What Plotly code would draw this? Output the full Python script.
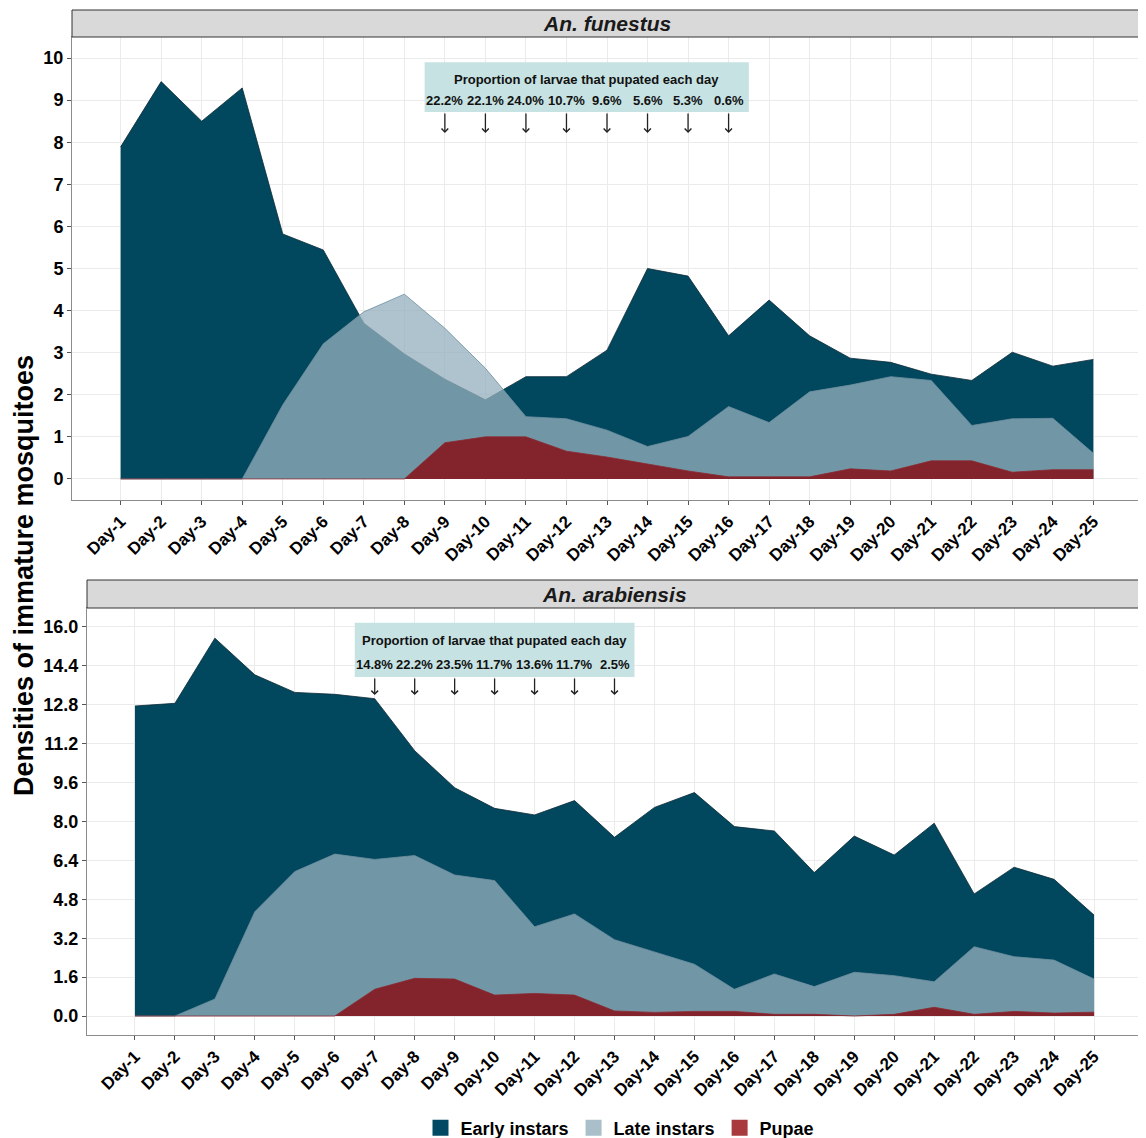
import plotly.graph_objects as go

days = ["Day-1", "Day-2", "Day-3", "Day-4", "Day-5", "Day-6", "Day-7", "Day-8", "Day-9",
        "Day-10", "Day-11", "Day-12", "Day-13", "Day-14", "Day-15", "Day-16", "Day-17",
        "Day-18", "Day-19", "Day-20", "Day-21", "Day-22", "Day-23", "Day-24", "Day-25"]

# An. funestus
fun_early = [7.89, 9.44, 8.50, 9.29, 5.82, 5.44, 3.70, 2.97, 2.37, 1.88, 2.43, 2.43, 3.06,
             5.00, 4.82, 3.40, 4.25, 3.40, 2.87, 2.77, 2.49, 2.34, 3.01, 2.68, 2.84]
fun_late = [0, 0, 0, 0, 1.76, 3.21, 3.97, 4.39, 3.58, 2.63, 1.48, 1.43, 1.16,
            0.77, 1.01, 1.72, 1.34, 2.07, 2.23, 2.43, 2.34, 1.27, 1.43, 1.44, 0.61]
fun_pupae = [0, 0, 0, 0, 0, 0, 0, 0, 0.86, 1.00, 1.00, 0.66, 0.52,
             0.35, 0.19, 0.05, 0.05, 0.05, 0.24, 0.19, 0.43, 0.43, 0.16, 0.22, 0.22]

# An. arabiensis
ara_early = [12.75, 12.86, 15.54, 14.03, 13.31, 13.23, 13.05, 10.91, 9.39, 8.54, 8.27, 8.86, 7.35,
             8.58, 9.19, 7.79, 7.61, 5.90, 7.40, 6.62, 7.93, 5.02, 6.12, 5.62, 4.15]
ara_late = [0, 0, 0.70, 4.29, 5.94, 6.66, 6.44, 6.60, 5.80, 5.57, 3.67, 4.20, 3.14,
            2.62, 2.13, 1.10, 1.73, 1.21, 1.80, 1.66, 1.41, 2.85, 2.44, 2.30, 1.52]
ara_pupae = [0, 0, 0, 0, 0, 0, 1.10, 1.55, 1.52, 0.86, 0.93, 0.86, 0.21,
             0.15, 0.19, 0.19, 0.07, 0.07, 0.0, 0.07, 0.36, 0.07, 0.19, 0.12, 0.16]

fun_pct_days = ["Day-9", "Day-10", "Day-11", "Day-12", "Day-13", "Day-14", "Day-15", "Day-16"]
fun_pct = ["22.2%", "22.1%", "24.0%", "10.7%", "9.6%", "5.6%", "5.3%", "0.6%"]
ara_pct_days = ["Day-7", "Day-8", "Day-9", "Day-10", "Day-11", "Day-12", "Day-13"]
ara_pct = ["14.8%", "22.2%", "23.5%", "11.7%", "13.6%", "11.7%", "2.5%"]

series_names = ["Early instars", "Late instars", "Pupae"]
fill_colors = ["rgba(1,71,94,1)", "rgba(149,176,189,0.76)", "rgba(132,31,39,0.97)"]
line_colors = ["#0d2a36", "#6f8fa0", "#8a2a31"]
legend_colors = ["#024a63", "#a9bfca", "#a83a3e"]

# page offset of the plot div (default body margin)
OFF = 8
W, H = 1138, 1130
FONT = "Liberation Sans"

xs = list(range(1, len(days) + 1))
idx = {d: i + 1 for i, d in enumerate(days)}

fig = go.Figure()
panels = [((fun_early, fun_late, fun_pupae), "x", "y"),
          ((ara_early, ara_late, ara_pupae), "x2", "y2")]
for data, xa, ya in panels:
    for name, vals, fc, lc in zip(series_names, data, fill_colors, line_colors):
        fig.add_trace(go.Scatter(
            x=xs, y=vals, xaxis=xa, yaxis=ya, mode="lines", fill="tozeroy",
            fillcolor=fc, line=dict(color=lc, width=0.8), name=name,
            legendgroup=name, showlegend=False, hoverinfo="skip"))

# legend keys (square swatches)
for name, lc in zip(series_names, legend_colors):
    fig.add_trace(go.Scatter(x=[None], y=[None], mode="markers", name=name,
                             marker=dict(symbol="square", size=17, color=lc),
                             legendgroup=name, showlegend=True))

def px_x(p):
    return (p - OFF) / W

def px_y(p):
    return 1 - (p - OFF) / H

grid = "#ebebeb"
border = "#8c8c8c"
axis_common = dict(showgrid=True, gridcolor=grid, gridwidth=1, zeroline=False,
                   showline=True, linecolor=border, linewidth=1, mirror=True,
                   ticks="outside", ticklen=4, tickcolor="#555555", automargin=False)

fig.update_layout(
    width=W, height=H, margin=dict(l=0, r=0, t=0, b=0, autoexpand=False),
    plot_bgcolor="white", paper_bgcolor="white",
    font=dict(family=FONT, color="black"),
    xaxis=dict(domain=[px_x(72), px_x(1142)], range=[-0.2, 26.2], anchor="y",
               tickvals=xs, ticktext=days, tickangle=-45,
               tickfont=dict(size=17, weight="bold", color="black"), **axis_common),
    yaxis=dict(domain=[px_y(500), px_y(37)], range=[-0.5, 10.5], anchor="x",
               tick0=0, dtick=1, tickfont=dict(size=18, weight="bold", color="black"),
               **axis_common),
    xaxis2=dict(domain=[px_x(87), px_x(1142)], range=[-0.2, 26.2], anchor="y2",
                tickvals=xs, ticktext=days, tickangle=-45,
                tickfont=dict(size=17, weight="bold", color="black"), **axis_common),
    yaxis2=dict(domain=[px_y(1035), px_y(608)], range=[-0.78, 16.78], anchor="x2",
                tick0=0, dtick=1.6, tickformat=".1f",
                tickfont=dict(size=18, weight="bold", color="black"), **axis_common),
    legend=dict(orientation="h", x=px_x(620), xanchor="center", y=px_y(1128), yanchor="middle",
                font=dict(size=18, weight="bold", color="black"), itemwidth=30,
                traceorder="normal", bgcolor="rgba(0,0,0,0)"),
)

# strips
strips = [(72, 1142, 10, 37, "<b><i>An. funestus</i></b>"),
          (87, 1142, 580, 608, "<b><i>An. arabiensis</i></b>")]
for x0, x1, y0, y1, txt in strips:
    fig.add_shape(type="rect", xref="paper", yref="paper",
                  x0=px_x(x0), x1=px_x(x1), y0=px_y(y1), y1=px_y(y0),
                  fillcolor="#d9d9d9", line=dict(color="#333333", width=1), layer="above")
    fig.add_annotation(xref="paper", yref="paper", x=px_x((x0 + x1) / 2), y=px_y((y0 + y1) / 2),
                       text=txt, showarrow=False, font=dict(size=21, color="#1a1a1a"),
                       xanchor="center", yanchor="middle")

# pupation boxes
boxes = [("x", "y", fun_pct_days, fun_pct, (9.9, 8.72), 9.5, 9.0, (8.72, 8.22)),
         ("x2", "y2", ara_pct_days, ara_pct, (16.17, 13.94), 15.43, 14.44, (13.94, 13.2))]
for xa, ya, pdays, pcts, (by1, by0), ty, py, (ay0, ay1) in boxes:
    xi = [idx[d] for d in pdays]
    fig.add_shape(type="rect", xref=xa, yref=ya, x0=xi[0] - 0.5, x1=xi[-1] + 0.5,
                  y0=by0, y1=by1, fillcolor="#c6e2e3", line=dict(width=0), layer="above")
    fig.add_annotation(xref=xa, yref=ya, x=(xi[0] + xi[-1]) / 2, y=ty,
                       text="<b>Proportion of larvae that pupated each day</b>", showarrow=False,
                       font=dict(size=13, color="#111111"), xanchor="center", yanchor="middle")
    for x, p in zip(xi, pcts):
        fig.add_annotation(xref=xa, yref=ya, x=x, y=py, text="<b>" + p + "</b>",
                           showarrow=False, font=dict(size=13, color="#111111"),
                           xanchor="center", yanchor="middle")
        fig.add_annotation(xref=xa, yref=ya, x=x, y=ay1, ax=x, ay=ay0, axref=xa, ayref=ya,
                           text="", showarrow=True, arrowhead=4, arrowsize=1,
                           arrowwidth=1.3, arrowcolor="#222222")

# y-axis title
fig.add_annotation(xref="paper", yref="paper", x=px_x(24), y=px_y(576),
                   text="<b>Densities of immature mosquitoes</b>", textangle=-90,
                   showarrow=False, font=dict(size=27, color="black"),
                   xanchor="center", yanchor="middle")

fig.write_html("out.html")
